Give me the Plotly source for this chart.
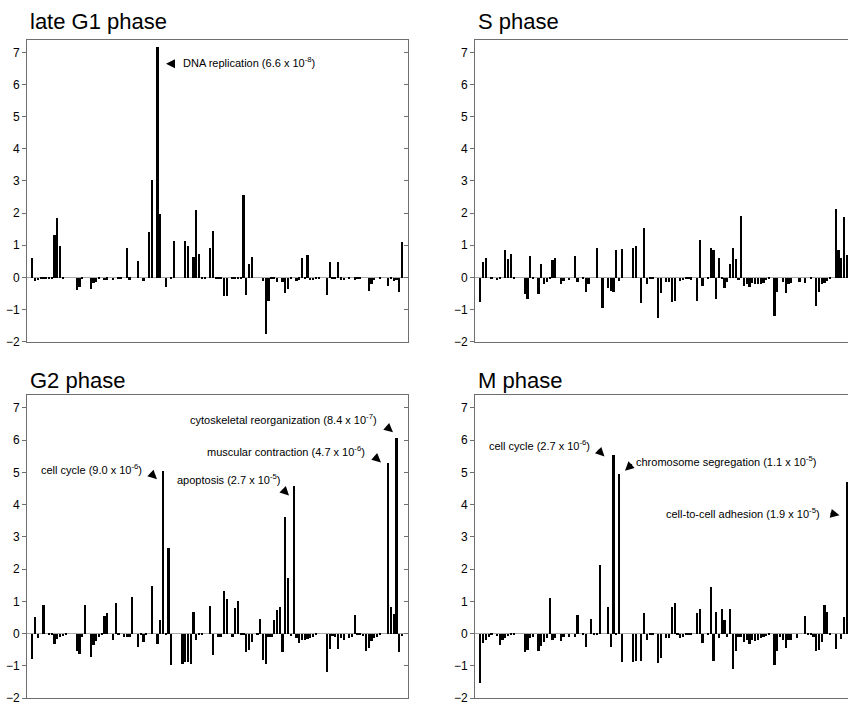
import plotly.graph_objects as go

# ---------------- data ----------------
categories = list(range(1, 135))

late_g1 = [0.6, -0.1, -0.08, -0.02, -0.03, -0.02, -0.03, -0.03, 1.33, 1.87,
           0.98, -0.02, 0, 0, 0, 0, -0.38, -0.3, -0.05, 0,
           0, -0.36, -0.15, -0.12, -0.05, 0, -0.08, -0.06, 0, -0.08,
           0, -0.04, -0.04, 0, 0.92, -0.06, 0, 0, 0.51, 0,
           -0.1, 0, 1.43, 3.03, 0, 7.17, 1.97, 0, -0.28, 0,
           -0.04, 1.13, 0, 0, 0, 1.13, 0.98, 0, 0.66, 2.1,
           0.73, -0.02, -0.02, 0, 0.92, 1.45, -0.05, -0.05, -0.05, -0.57,
           -0.57, 0, -0.03, -0.03, -0.02, -0.02, 2.58, -0.55, 0.43, 0.66,
           0, 0, 0, -0.1, -1.75, -0.72, -0.05, -0.05, -0.13, 0,
           -0.12, -0.48, -0.35, -0.05, 0, -0.1, -0.06, 0.6, -0.02, 0.71,
           -0.08, -0.08, -0.05, -0.04, 0, 0, -0.53, 0.5, -0.03, -0.05,
           0.48, -0.06, -0.07, 0, -0.05, 0, -0.06, -0.03, -0.04, 0,
           0, -0.42, -0.2, -0.08, 0, -0.03, 0, 0, -0.25, -0.05,
           -0.1, -0.08, -0.45, 1.1]

s_phase = [-0.77, 0.5, 0.62, 0, -0.05, 0, -0.07, -0.05, 0, 0.87,
           0.58, 0.74, -0.04, 0, 0, 0, -0.52, -0.65, 0.68, -0.05,
           0, -0.5, 0.44, -0.2, -0.12, -0.05, 0.54, 0.63, 0, -0.18,
           -0.1, 0, -0.07, 0, 0.68, -0.12, 0, -0.05, -0.43, -0.2,
           0, 0, 0.92, 0, -0.93, 0, -0.32, -0.42, -0.45, 0.85,
           -0.1, 0.88, 0, 0, 0, 0.92, 0.98, 0, -0.8, 1.55,
           -0.2, -0.05, -0.05, 0, -1.25, -0.48, 0, -0.12, -0.12, -0.77,
           -0.72, 0, -0.1, -0.08, -0.05, -0.05, -0.06, 0, -0.72, 1.17,
           -0.25, 0, -0.03, 0.92, 0.85, -0.65, 0.62, -0.05, -0.33, -0.12,
           0.44, 0.92, 0.57, -0.08, 1.93, -0.25, -0.2, -0.3, -0.15, -0.2,
           -0.2, -0.18, -0.15, -0.08, -0.05, 0, -1.2, -0.45, 0, -0.12,
           -0.48, -0.18, -0.15, 0, 0, -0.13, 0, -0.15, 0, -0.05,
           0, -0.88, -0.45, -0.2, -0.15, -0.1, -0.05, 0, 2.15, 0.85,
           0.6, 1.9, 0.7, -0.1]

g2_phase = [-0.78, 0.5, -0.13, 0, 0.88, 0, -0.05, -0.06, -0.32, -0.18,
            -0.12, -0.08, -0.05, 0, 0, 0, -0.53, -0.65, -0.12, 0.88,
            0, -0.74, -0.35, -0.22, -0.12, -0.05, 0.53, 0.63, 0, -0.2,
            0.95, -0.05, 0, -0.1, -0.12, -0.12, 1.13, 0, -0.43, -0.05,
            -0.25, -0.05, 0, 1.47, 0, -0.32, 0.42, 5.03, -0.05, 2.65,
            -0.97, 0, 0, 0, -0.96, -0.88, -0.87, -0.94, 0.67, -0.2,
            -0.05, -0.05, 0, 0, 0.86, -0.67, 0, -0.1, -0.12, 1.33,
            1.07, 0, -0.12, 0.78, 1.0, -0.05, -0.05, -0.58, -0.52, -0.25,
            0, -0.05, 0.45, -0.83, -0.95, -0.12, -0.1, 0.43, 0.73, 0.83,
            -0.57, 3.6, 1.73, -0.08, 4.57, -0.15, -0.3, -0.2, -0.2, -0.18,
            -0.15, -0.1, -0.05, 0, 0, 0, -1.2, -0.47, -0.08, -0.12,
            -0.48, -0.15, -0.2, 0, -0.15, -0.1, 0.58, -0.05, -0.05, -0.08,
            -0.55, -0.45, -0.22, -0.15, -0.1, -0.05, 0, 0, 5.3, 0.83,
            0.6, 6.07, -0.58, -0.08]

m_phase = [-1.53, -0.28, -0.2, -0.12, -0.05, 0, -0.08, -0.35, -0.2, -0.15,
           -0.08, -0.05, -0.03, 0, 0, 0, -0.57, -0.5, -0.15, -0.1,
           0, -0.53, -0.4, -0.27, -0.15, 1.1, -0.2, -0.15, 0, -0.22,
           -0.1, 0, -0.1, 0, -0.12, 0.58, 0, -0.05, -0.43, 0,
           0.45, -0.05, -0.05, 2.12, 0, 0, 0.82, -0.43, 5.55, -0.05,
           4.95, -0.88, 0, 0, 0, -0.87, -0.85, 0, -0.85, 0.63,
           -0.2, -0.05, -0.05, 0, -0.9, -0.75, 0, -0.15, -0.15, 0.82,
           0.96, -0.05, -0.15, -0.1, -0.05, -0.05, -0.05, 0, 0.63, 0.75,
           -0.28, 0, -0.03, 1.45, -0.85, 0.68, -0.15, 0.75, 0.42, -0.1,
           0.77, -1.1, -0.55, -0.12, -0.12, -0.25, -0.2, -0.33, -0.2, -0.22,
           -0.2, -0.15, -0.12, -0.08, -0.05, 0, -0.97, -0.53, -0.1, -0.2,
           -0.45, -0.2, -0.2, 0, -0.15, 0, 0, 0.55, -0.05, -0.05,
           -0.1, -0.55, -0.5, -0.25, 0.87, 0.67, -0.03, 0, -0.47, 0,
           -0.17, 0.5, 4.7, -0.1]

panel_titles = ["late G1 phase", "S phase", "G2 phase", "M phase"]
y_ticks = [-2, -1, 0, 1, 2, 3, 4, 5, 6, 7]

label_text = [
    "DNA replication (6.6 x 10<sup>-8</sup>)",
    "cell cycle (9.0 x 10<sup>-6</sup>)",
    "apoptosis (2.7 x 10<sup>-5</sup>)",
    "muscular contraction (4.7 x 10<sup>-6</sup>)",
    "cytoskeletal reorganization (8.4 x 10<sup>-7</sup>)",
    "cell cycle (2.7 x 10<sup>-6</sup>)",
    "chromosome segregation (1.1 x 10<sup>-5</sup>)",
    "cell-to-cell adhesion (1.9 x 10<sup>-5</sup>)",
]

# ---------------- layout helpers ----------------
W, H = 848, 711
FONT = "Liberation Sans, Arial, Helvetica, sans-serif"


def px(x):
    return x / W


def py(y):
    return 1 - y / H


x_dom_left = [px(27), px(408)]
x_dom_right = [px(475), 1.0]
y_dom_top = [py(345), py(40)]
y_dom_bot = [py(705), py(399)]

x_range_full = [-0.906, 136.14]
x_range_cut = [-0.906, 133.45]
y_range = [-2, 7.4]

fig = go.Figure()

series = [late_g1, s_phase, g2_phase, m_phase]
for i, vals in enumerate(series):
    suffix = "" if i == 0 else str(i + 1)
    fig.add_trace(go.Bar(
        x=categories, y=vals, width=0.8,
        marker=dict(color="black", line=dict(width=0)),
        xaxis="x" + suffix, yaxis="y" + suffix,
        showlegend=False, hoverinfo="skip",
    ))

# invisible traces on the overlay axes that draw inward ticks on the right border
for ov, xa in (("y5", "x"), ("y6", "x3")):
    fig.add_trace(go.Scatter(x=[None], y=[None], xaxis=xa, yaxis=ov,
                             showlegend=False, hoverinfo="skip"))

frame = "#6f6f6f"

xcommon = dict(showline=True, linecolor=frame, linewidth=1, mirror=True,
               ticks="", showticklabels=False, showgrid=False, zeroline=False)


def ycommon(mirror):
    return dict(range=y_range, tickvals=y_ticks, ticks="outside", ticklen=4,
                tickcolor=frame, showline=True, linecolor=frame, linewidth=1,
                mirror=mirror, showgrid=False, zeroline=True,
                zerolinecolor="#a8a8a8", zerolinewidth=1,
                tickfont=dict(family=FONT, size=12, color="black"))


fig.update_layout(
    width=W, height=H,
    margin=dict(l=0, r=0, t=0, b=0),
    paper_bgcolor="white", plot_bgcolor="white",
    bargap=0,
    xaxis=dict(domain=x_dom_left, range=x_range_full, anchor="y", **xcommon),
    yaxis=dict(domain=y_dom_top, anchor="x", **ycommon(True)),
    xaxis2=dict(domain=x_dom_right, range=x_range_cut, anchor="y2", **xcommon),
    yaxis2=dict(domain=y_dom_top, anchor="x2", **ycommon(False)),
    xaxis3=dict(domain=x_dom_left, range=x_range_full, anchor="y3", **xcommon),
    yaxis3=dict(domain=y_dom_bot, anchor="x3", **ycommon(True)),
    xaxis4=dict(domain=x_dom_right, range=x_range_cut, anchor="y4", **xcommon),
    yaxis4=dict(domain=y_dom_bot, anchor="x4", **ycommon(False)),
    yaxis5=dict(overlaying="y", anchor="x", side="right", range=y_range,
                tickvals=y_ticks, ticks="inside", ticklen=4, tickcolor=frame,
                showticklabels=False, showgrid=False, zeroline=False, showline=False),
    yaxis6=dict(overlaying="y3", anchor="x3", side="right", range=y_range,
                tickvals=y_ticks, ticks="inside", ticklen=4, tickcolor=frame,
                showticklabels=False, showgrid=False, zeroline=False, showline=False),
)

annotations = []

title_pos = [(28, 22), (476, 22), (28, 384), (476, 384)]
for t, (tx, ty) in zip(panel_titles, title_pos):
    annotations.append(dict(text=t, x=px(tx), y=py(ty), xref="paper", yref="paper",
                            xanchor="left", yanchor="middle", showarrow=False,
                            font=dict(family=FONT, size=22, color="black")))

label_pos = [(181, 63), (39, 474), (175, 484), (205, 455), (188, 423),
             (487, 449), (634, 466), (664, 518)]
for t, (tx, ty) in zip(label_text, label_pos):
    annotations.append(dict(text=t, x=px(tx), y=py(ty), xref="paper", yref="paper",
                            xanchor="left", yanchor="middle", showarrow=False,
                            font=dict(family=FONT, size=11, color="black")))

# arrows: (tip x, tip y, tail x, tail y) in pixels
arrows = [(166, 64.5, 176, 64.5), (157, 484, 149, 476.5), (289, 500.5, 281.5, 493),
          (381, 467, 373, 460), (393, 436.5, 385, 429.5), (604.5, 461, 596.5, 453),
          (625, 475.5, 633.5, 467.5), (839.5, 520.5, 829, 518)]
for (x0, y0, x1, y1) in arrows:
    annotations.append(dict(text="", x=px(x0), y=py(y0), xref="paper", yref="paper",
                            ax=x1 - x0, ay=y1 - y0, showarrow=True,
                            arrowhead=2, arrowsize=1.5, arrowwidth=1.2,
                            arrowcolor="black", standoff=0))

fig.update_layout(annotations=annotations)

fig.write_html("out.html",
               config={"displayModeBar": False},
               post_script="document.body.style.margin='0';"
                           "document.documentElement.style.overflow='hidden';")
